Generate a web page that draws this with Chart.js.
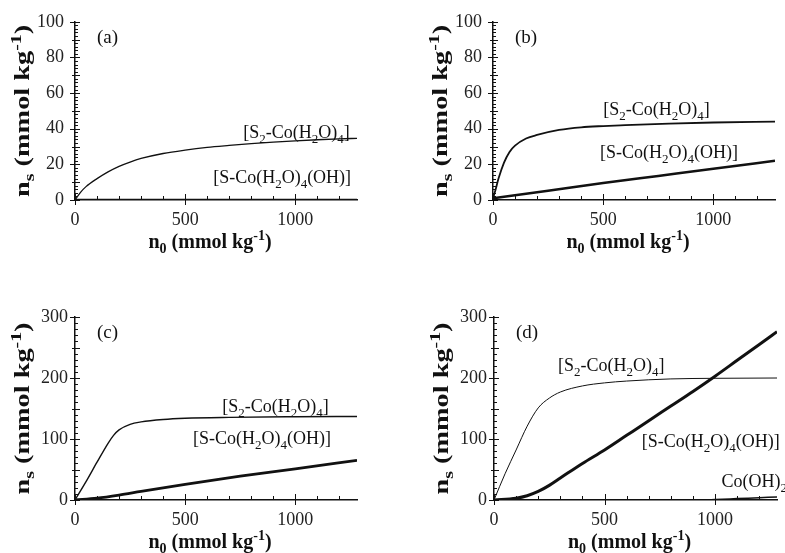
<!DOCTYPE html>
<html>
<head>
<meta charset="utf-8">
<script src="https://cdn.jsdelivr.net/npm/chart.js@4.4.1/dist/chart.umd.min.js"></script>
<style>
    body { margin: 0; background: #fff; width: 785px; height: 553px; overflow: hidden; position: relative; }
    canvas { position: absolute; }
</style>
</head>
<body>
<canvas id="chartA" width="400" height="270" style="left:0px;top:0px"></canvas>
<canvas id="chartB" width="385" height="270" style="left:400px;top:0px"></canvas>
<canvas id="chartC" width="400" height="283" style="left:0px;top:270px"></canvas>
<canvas id="chartD" width="385" height="283" style="left:400px;top:270px"></canvas>
<script>
// ---- data (n0 in mmol/kg -> ns in mmol/kg) ----
const xTickLabels = [0, 500, 1000];
const yTickLabelsTop = [0, 20, 40, 60, 80, 100];
const yTickLabelsBottom = [0, 100, 200, 300];

// panel (a)
const aX   = [0, 25, 50, 100, 150, 200, 250, 300, 400, 500, 600, 700, 800, 900, 1000, 1100, 1200, 1280];
const aS2  = [0, 4.3, 7.5, 12, 15.8, 18.9, 21.3, 23.3, 26.1, 28, 29.5, 30.6, 31.6, 32.5, 33.2, 33.8, 34.3, 34.6];
const aOH  = [0, 0, 0, 0, 0, 0, 0, 0, 0, 0, 0, 0, 0, 0, 0, 0, 0, 0];

// panel (b)
const bX   = [0, 10, 25, 50, 75, 100, 150, 200, 300, 400, 500, 600, 800, 1000, 1280];
const bS2  = [1, 5, 12, 21, 27, 30.5, 34.5, 36.5, 39.3, 40.8, 41.5, 42, 42.9, 43.5, 44];
const bOHx = [0, 250, 500, 750, 1000, 1280];
const bOH  = [1, 5.2, 9.5, 13.5, 17.5, 22];

// panel (c)
const cX   = [0, 50, 100, 150, 175, 200, 250, 300, 400, 500, 700, 1000, 1280];
const cS2  = [0, 30, 62, 93, 106, 115, 124, 128, 132, 134, 135.5, 136.5, 137];
const cOHx = [0, 100, 200, 300, 500, 750, 1000, 1280];
const cOH  = [0, 3, 8, 14, 25.5, 39, 51, 65];

// panel (d)
const dX   = [0, 50, 100, 150, 200, 250, 300, 400, 500, 600, 800, 1000, 1280];
const dS2  = [0, 43, 82, 121, 151, 167, 177, 187, 192, 195, 198.5, 199.5, 200];
const dOHx = [0, 100, 150, 200, 250, 300, 400, 500, 600, 700, 800, 900, 1000, 1100, 1200, 1280];
const dOH  = [0, 3, 7, 14, 24, 36, 60, 82, 106, 130, 154, 178, 203, 229, 255, 276];
const dCoX = [0, 500, 900, 950, 1000, 1100, 1200, 1280];
const dCo  = [0, 0, 0, 0, 0.8, 2.3, 3.8, 5];

const fontFam = '"Liberation Serif", "Times New Roman", serif';
const noteStyle = { big: '18px ' + fontFam, small: '13px ' + fontFam, sub: 5, sup: 7 };
const titleStyle = { big: 'bold 20px ' + fontFam, small: 'bold 14px ' + fontFam, sub: 5, sup: 8 };

function richParts(str) {
    const out = [];
    const re = /([_^])\{([^}]*)\}/g;
    let last = 0, m;
    while ((m = re.exec(str))) {
        if (m.index > last) out.push({ t: str.slice(last, m.index), k: '' });
        out.push({ t: m[2], k: m[1] });
        last = re.lastIndex;
    }
    if (last < str.length) out.push({ t: str.slice(last), k: '' });
    return out;
}

function drawRich(ctx, str, x, y, st, measureOnly) {
    let w = 0;
    richParts(str).forEach(p => {
        ctx.font = p.k ? st.small : st.big;
        const dy = p.k === '_' ? st.sub : (p.k === '^' ? -st.sup : 0);
        if (!measureOnly) ctx.fillText(p.t, x + w, y + dy);
        w += ctx.measureText(p.t).width;
    });
    return w;
}

// tick marks, axis titles, panel letter and curve labels
const decor = {
    id: 'decor',
    afterDraw(chart, args, o) {
        const ctx = chart.ctx;
        const xs = chart.scales.x;
        const ys = chart.scales.y;
        const area = chart.chartArea;
        ctx.save();
        ctx.strokeStyle = '#111';
        ctx.lineWidth = 1;
        ctx.beginPath();
        ys.ticks.forEach(t => {
            const py = Math.round(ys.getPixelForValue(t.value)) + 0.5;
            let a = 0, b = 3;
            if (t.label !== '') { a = -5; b = 5; }
            else if (t.value % o.yMid === 0) { a = -3; b = 5; }
            ctx.moveTo(area.left + a, py);
            ctx.lineTo(area.left + b, py);
        });
        xs.ticks.forEach(t => {
            const px = Math.round(xs.getPixelForValue(t.value)) + 0.5;
            let a = 0, b = 4;
            if (t.label !== '') { a = -5; b = 6; }
            ctx.moveTo(px, area.bottom - a);
            ctx.lineTo(px, area.bottom - b);
        });
        ctx.stroke();

        ctx.fillStyle = '#111';
        ctx.textBaseline = 'alphabetic';
        ctx.textAlign = 'left';

        // x title
        const xt = 'n_{0} (mmol kg^{-1})';
        const xw = drawRich(ctx, xt, 0, 0, titleStyle, true);
        drawRich(ctx, xt, (area.left + area.right) / 2 - 6 - xw / 2, o.xTitleY, titleStyle);

        // y title (rotated)
        const yt = 'n_{s} (mmol kg^{-1})';
        const yw = drawRich(ctx, yt, 0, 0, titleStyle, true);
        ctx.save();
        ctx.translate(area.left - 53, (area.top + area.bottom) / 2);
        ctx.rotate(-Math.PI / 2);
        ctx.scale(o.yTitleLen / yw, 1);
        drawRich(ctx, yt, -yw / 2, 7, titleStyle);
        ctx.restore();

        // panel letter
        ctx.font = '19px ' + fontFam;
        ctx.fillText(o.letter, area.left + 22, area.top + 21);

        // curve labels
        o.notes.forEach(n => {
            drawRich(ctx, n.text, xs.getPixelForValue(n.x), ys.getPixelForValue(n.y), noteStyle);
        });
        ctx.restore();
    }
};

function series(xArr, yArr, width) {
    return {
        data: xArr.map((x, i) => ({ x: x, y: yArr[i] })),
        borderColor: '#111',
        borderWidth: width,
        pointRadius: 0,
        fill: false,
        cubicInterpolationMode: 'monotone'
    };
}

function makePanel(id, datasets, p) {
    const ctx = document.getElementById(id).getContext('2d');
    return new Chart(ctx, {
        type: 'line',
        data: { datasets: datasets },
        plugins: [decor],
        options: {
            responsive: false,
            animation: false,
            devicePixelRatio: 1,
            layout: { padding: { top: p.padTop, right: p.padRight, left: 0, bottom: 0 } },
            plugins: {
                legend: { display: false },
                tooltip: { enabled: false },
                decor: {
                    letter: p.letter,
                    notes: p.notes,
                    yMid: p.yMid,
                    xTitleY: p.xTitleY,
                    yTitleLen: 172
                }
            },
            scales: {
                x: {
                    type: 'linear',
                    min: 0,
                    max: 1280,
                    afterFit: s => { s.height = p.xHeight; },
                    border: { display: true, color: '#111', width: 1.5 },
                    grid: { drawOnChartArea: false, drawTicks: false },
                    ticks: {
                        stepSize: 100,
                        autoSkip: false,
                        maxRotation: 0,
                        includeBounds: false,
                        padding: 9,
                        color: '#222',
                        font: { family: fontFam, size: 18 },
                        callback: v => xTickLabels.includes(v) ? String(v) : ''
                    }
                },
                y: {
                    type: 'linear',
                    min: 0,
                    max: p.yMax,
                    afterFit: s => { s.width = p.yWidth; },
                    border: { display: true, color: '#111', width: 1.5 },
                    grid: { drawOnChartArea: false, drawTicks: false },
                    ticks: {
                        stepSize: p.yStep,
                        autoSkip: false,
                        includeBounds: false,
                        padding: p.yPad,
                        color: '#222',
                        font: { family: fontFam, size: 18 },
                        callback: v => p.yLabels.includes(v) ? String(v) : ''
                    }
                }
            }
        }
    });
}

makePanel('chartA', [series(aX, aS2, 1.3), series(aX, aOH, 2.5)], {
    letter: '(a)', yMax: 100, yStep: 2, yMid: 10, yLabels: yTickLabelsTop, yPad: 11,
    yWidth: 75, xHeight: 70, padTop: 18, padRight: 43, xTitleY: 248,
    notes: [
        { text: '[S_{2}-Co(H_{2}O)_{4}]', x: 764, y: 34.6 },
        { text: '[S-Co(H_{2}O)_{4}(OH)]', x: 627, y: 9.3 }
    ]
});

makePanel('chartB', [series(bX, bS2, 1.8), series(bOHx, bOH, 2.5)], {
    letter: '(b)', yMax: 100, yStep: 2, yMid: 10, yLabels: yTickLabelsTop, yPad: 11,
    yWidth: 93, xHeight: 70, padTop: 18, padRight: 10, xTitleY: 248,
    notes: [
        { text: '[S_{2}-Co(H_{2}O)_{4}]', x: 500, y: 47.8 },
        { text: '[S-Co(H_{2}O)_{4}(OH)]', x: 486, y: 23.6 }
    ]
});

makePanel('chartC', [series(cX, cS2, 1.4), series(cOHx, cOH, 2.8)], {
    letter: '(c)', yMax: 300, yStep: 10, yMid: 50, yLabels: yTickLabelsBottom, yPad: 7,
    yWidth: 75, xHeight: 53, padTop: 47, padRight: 43, xTitleY: 278,
    notes: [
        { text: '[S_{2}-Co(H_{2}O)_{4}]', x: 668, y: 144 },
        { text: '[S-Co(H_{2}O)_{4}(OH)]', x: 536, y: 92 }
    ]
});

makePanel('chartD', [series(dX, dS2, 1), series(dOHx, dOH, 3), series(dCoX, dCo, 1.5)], {
    letter: '(d)', yMax: 300, yStep: 10, yMid: 50, yLabels: yTickLabelsBottom, yPad: 7,
    yWidth: 94, xHeight: 53, padTop: 47, padRight: 8, xTitleY: 278,
    notes: [
        { text: '[S_{2}-Co(H_{2}O)_{4}]', x: 289, y: 211 },
        { text: '[S-Co(H_{2}O)_{4}(OH)]', x: 668, y: 87.6 },
        { text: 'Co(OH)_{2}', x: 1029, y: 22 }
    ]
});
</script>
</body>
</html>
